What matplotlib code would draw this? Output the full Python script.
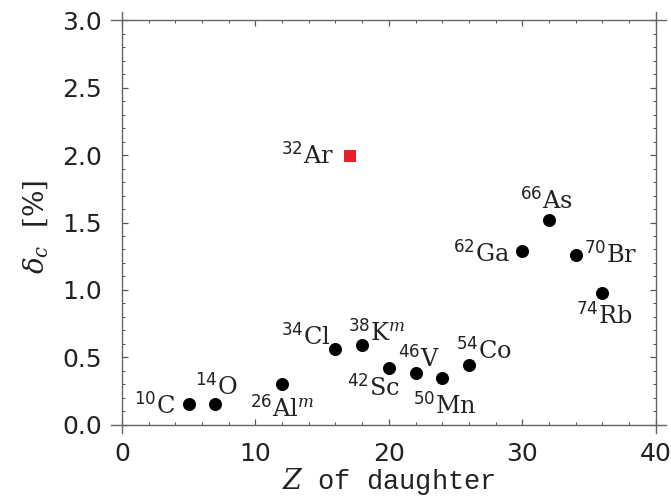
import numpy as np
import matplotlib
matplotlib.use('Agg')
import matplotlib.pyplot as plt
from matplotlib.ticker import MultipleLocator

plt.rcParams['mathtext.fontset'] = 'dejavuserif'

# nuclei: label, Z of daughter, delta_c [%]
labels = [r'$^{\mathsf{10}}\mathrm{C}$', r'$^{\mathsf{14}}\mathrm{O}$', r'$^{\mathsf{26}}\mathrm{Al}^{m}$',
          r'$^{\mathsf{34}}\mathrm{Cl}$', r'$^{\mathsf{38}}\mathrm{K}^{m}$', r'$^{\mathsf{42}}\mathrm{Sc}$',
          r'$^{\mathsf{46}}\mathrm{V}$', r'$^{\mathsf{50}}\mathrm{Mn}$', r'$^{\mathsf{54}}\mathrm{Co}$',
          r'$^{\mathsf{62}}\mathrm{Ga}$', r'$^{\mathsf{66}}\mathrm{As}$', r'$^{\mathsf{70}}\mathrm{Br}$',
          r'$^{\mathsf{74}}\mathrm{Rb}$']
z_daughter = [5, 7, 12, 16, 18, 20, 22, 24, 26, 30, 32, 34, 36]
delta_c = [0.15, 0.15, 0.30, 0.56, 0.59, 0.42, 0.38, 0.35, 0.44, 1.29, 1.52, 1.26, 0.98]

ar_label = r'$^{\mathsf{32}}\mathrm{Ar}$'
ar_z = 17
ar_delta = 2.0

# label placement (offset in points, horizontal alignment)
offsets = [(-13, -9, 'right'), (1, 10, 'center'), (0, -32, 'center'),
           (-5, 5, 'right'), (-14, 5, 'left'), (11, -28, 'right'),
           (3, 7, 'center'), (3, -36, 'center'), (-13, 7, 'left'),
           (-12, -11, 'right'), (-3, 11, 'center'), (8, -8, 'left'),
           (2, -31, 'center')]

fig = plt.figure(figsize=(671 / 72, 498 / 72), dpi=72)
ax = fig.add_axes([0.1818, 0.1472, 0.7954, 0.812])

ax.plot(z_daughter, delta_c, 'o', color='black', markersize=12, clip_on=False)
ax.plot([ar_z], [ar_delta], 's', color='#e8202a', markersize=11)

lab_font = dict(fontsize=24, color='#222222')
for lab, x, y, (dx, dy, ha) in zip(labels, z_daughter, delta_c, offsets):
    ax.annotate(lab, (x, y), xytext=(dx, dy), textcoords='offset points',
                ha=ha, va='baseline', **lab_font)
ax.annotate(ar_label, (ar_z, ar_delta), xytext=(-15, -8), textcoords='offset points',
            ha='right', va='baseline', **lab_font)

ax.set_xlim(0, 40)
ax.set_ylim(0, 3.0)
ax.xaxis.set_major_locator(MultipleLocator(10))
ax.xaxis.set_minor_locator(MultipleLocator(2))
ax.yaxis.set_major_locator(MultipleLocator(0.5))
ax.yaxis.set_minor_locator(MultipleLocator(0.1))
ax.set_yticks(np.arange(0, 3.01, 0.5))
ax.set_yticklabels(['%.1f' % v for v in np.arange(0, 3.01, 0.5)])

ax.tick_params(which='both', direction='in', top=True, right=True, color='#555555')
ax.tick_params(which='major', length=6, width=1.2, pad=17, labelsize=25, labelcolor='#222222')
ax.tick_params(which='minor', length=3, width=1.0)
ax.tick_params(axis='y', which='major', pad=20)
for lab in ax.get_xticklabels() + ax.get_yticklabels():
    lab.set_family('DejaVu Sans')

for side in ['left', 'right']:
    ax.spines[side].set_bounds(-0.06, 3.06)
for side in ['top', 'bottom']:
    ax.spines[side].set_bounds(-0.8, 40.8)
for sp in ax.spines.values():
    sp.set_color('#666666')
    sp.set_linewidth(1.4)

ax.set_xlabel(r'$Z$ of daughter', fontsize=27, family='Liberation Mono', color='#222222', labelpad=0)
ax.set_ylabel(r'$\delta_c$  [%]', fontsize=28, family='DejaVu Serif', color='#222222', labelpad=12)
ax.yaxis.set_label_coords(-0.135, 0.49)

fig.savefig('out.png', dpi=72)
